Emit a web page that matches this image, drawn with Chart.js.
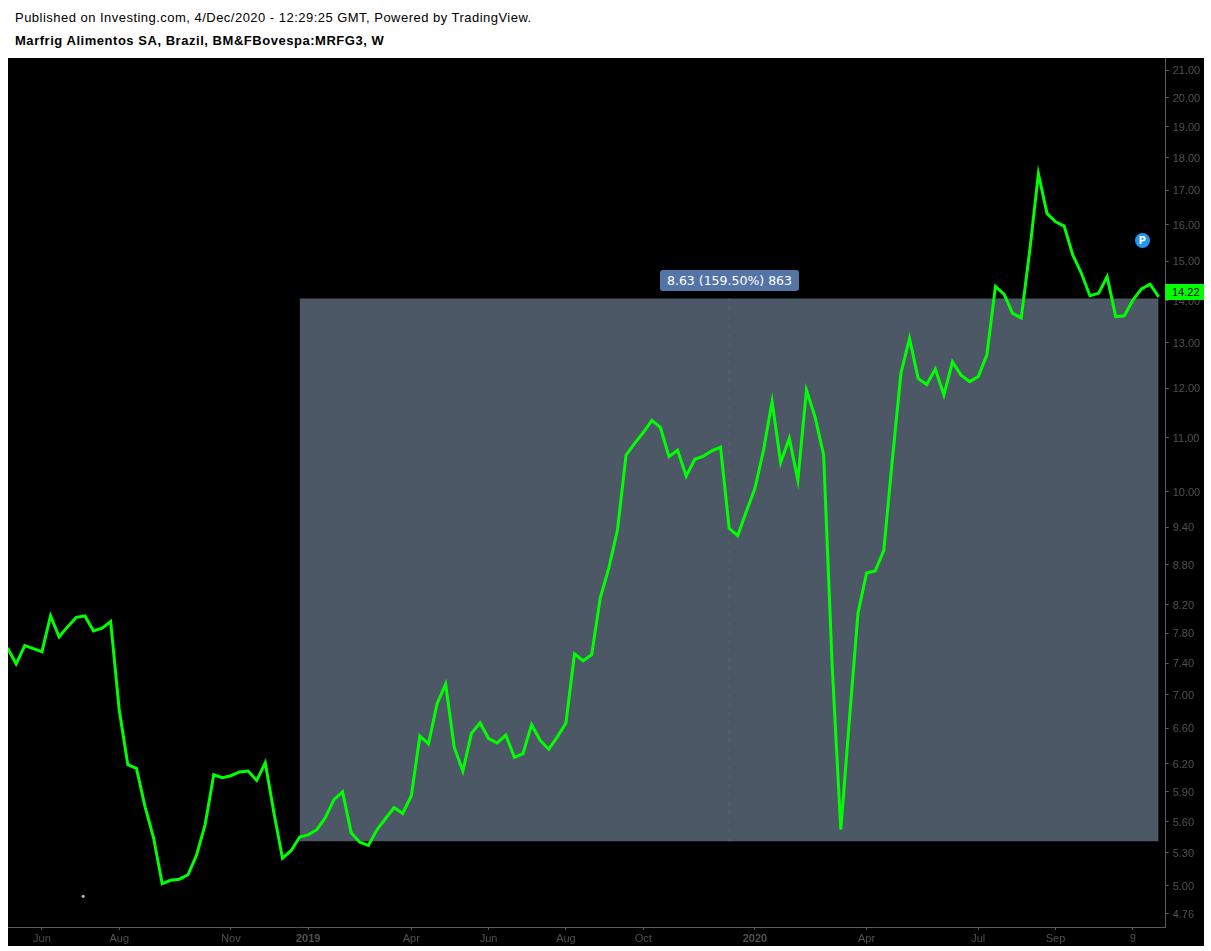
<!DOCTYPE html>
<html>
<head>
<meta charset="utf-8">
<title>MRFG3</title>
<script src="https://cdn.jsdelivr.net/npm/chart.js@4"></script>
<style>
    html, body { margin: 0; padding: 0; background: #fff; width: 1211px; height: 951px; overflow: hidden; font-family: "Liberation Sans", Arial, sans-serif; }
    .head { position: absolute; left: 15px; color: #000; white-space: nowrap; }
    #published { top: 10px; font-size: 13px; letter-spacing: 0.475px; }
    #symbol { top: 33px; font-size: 13px; font-weight: bold; letter-spacing: 0.535px; }
    #panel { position: absolute; left: 8px; top: 58px; width: 1196px; height: 888px; background: #000; }
    #pill { position: absolute; left: 660px; top: 270px; width: 139px; height: 21px; background: #5574a6; border-radius: 3px; color: #fff; text-align: center; font: 12.5px/21px "DejaVu Sans", sans-serif; }
    #lastTag { position: absolute; left: 1165px; top: 284px; width: 39px; height: 16px; background: #00ff00; color: #000; font-size: 11px; line-height: 16px; text-indent: 7px; }
    #pMark { position: absolute; left: 1135px; top: 233px; width: 15px; height: 15px; border-radius: 50%; background: #2196f3; color: #fff; text-align: center; font: bold 10px/15px "DejaVu Sans", sans-serif; }
</style>
</head>
<body>
<div class="head" id="published">Published on Investing.com, 4/Dec/2020 - 12:29:25 GMT, Powered by TradingView.</div>
<div class="head" id="symbol">Marfrig Alimentos SA, Brazil, BM&amp;FBovespa:MRFG3, W</div>
<div id="panel"><canvas id="chart" width="1196" height="888"></canvas></div>
<div id="pill">8.63 (159.50%) 863</div>
<div id="lastTag">14.22</div>
<div id="pMark">P</div>

<script>
// weekly closes
const closes = [
    7.60, 7.39, 7.63, 7.59, 7.55, 8.04, 7.75, 7.89, 8.02, 8.04,
    7.83, 7.87, 7.96, 6.81, 6.19, 6.15, 5.75, 5.44, 5.02, 5.05,
    5.06, 5.10, 5.28, 5.57, 6.08, 6.05, 6.07, 6.11, 6.12, 6.02,
    6.21, 5.69, 5.25, 5.32, 5.45, 5.47, 5.52, 5.64, 5.82, 5.90,
    5.49, 5.40, 5.37, 5.52, 5.63, 5.74, 5.68, 5.86, 6.51, 6.42,
    6.89, 7.13, 6.38, 6.12, 6.54, 6.66, 6.48, 6.43, 6.52, 6.27,
    6.31, 6.64, 6.46, 6.36, 6.50, 6.66, 7.52, 7.43, 7.51, 8.30,
    8.75, 9.35, 10.67, 10.89, 11.10, 11.34, 11.20, 10.64, 10.76, 10.28,
    10.59, 10.65, 10.75, 10.82, 9.38, 9.26, 9.66, 10.06, 10.76, 11.72,
    10.53, 10.99, 10.21, 11.96, 11.41, 10.67, 7.35, 5.52, 6.70, 8.08,
    8.67, 8.70, 9.02, 10.58, 12.32, 13.10, 12.21, 12.08, 12.41, 11.86,
    12.57, 12.28, 12.14, 12.25, 12.72, 14.35, 14.16, 13.69, 13.58, 15.30,
    17.50, 16.32, 16.08, 15.96, 15.17, 14.69, 14.12, 14.18, 14.60, 13.61,
    13.63, 14.01, 14.29, 14.41, 14.09
]

const xTickWeeks = [4, 13, 26, 35, 47, 56, 65, 74, 87, 100, 113, 122, 131]
const xTickLabels = ['Jun', 'Aug', 'Nov', '2019', 'Apr', 'Jun', 'Aug', 'Oct', '2020', 'Apr', 'Jul', 'Sep', '9']
const yTicks = [4.76, 5.00, 5.30, 5.60, 5.90, 6.20, 6.60, 7.00, 7.40, 7.80, 8.20, 8.80, 9.40, 10.00, 11.00, 12.00, 13.00, 14.00, 15.00, 16.00, 17.00, 18.00, 19.00, 20.00, 21.00]

// price range drawing
const rangeWeeks = [34, 134]
const rangeMidWeek = 84
const rangeLow = 5.41
const rangeHigh = 14.05
const speck = [{ x: 8.8, y: 4.91 }]

const AXIS_COLOR = '#5a5a5a'
const LABEL_COLOR = '#505050'

const flat = (price) => rangeWeeks.map((w) => ({ x: w, y: price }))

const ctx = document.getElementById('chart').getContext('2d')
new Chart(ctx, {
    type: 'line',
    data: {
        datasets: [
            {
                data: closes.map((c, i) => ({ x: i, y: c })),
                borderColor: '#00ff00',
                borderWidth: 3,
                borderJoinStyle: 'miter',
                pointRadius: 0,
                tension: 0,
                order: 0
            },
            {
                data: speck,
                showLine: false,
                pointRadius: 1.6,
                pointBackgroundColor: '#b0b0b0',
                pointBorderWidth: 0,
                order: 1
            },
            {
                data: [{ x: rangeMidWeek, y: rangeLow }, { x: rangeMidWeek, y: rangeHigh }],
                borderColor: '#5f6266',
                borderWidth: 1,
                borderDash: [3, 6],
                pointRadius: 0,
                order: 2
            },
            {
                data: flat(rangeHigh),
                borderWidth: 0,
                pointRadius: 0,
                backgroundColor: '#4c5866',
                fill: '+1',
                order: 3
            },
            {
                data: flat(rangeLow),
                borderWidth: 0,
                pointRadius: 0,
                order: 4
            }
        ]
    },
    options: {
        responsive: false,
        animation: false,
        layout: { padding: 0, autoPadding: false },
        plugins: { legend: { display: false }, tooltip: { enabled: false } },
        scales: {
            x: {
                type: 'linear',
                min: 0.05,
                max: 134.82,
                afterBuildTicks: (scale) => { scale.ticks = xTickWeeks.map((w) => ({ value: w })) },
                afterFit: (scale) => {
                    scale.height = 19
                    scale.paddingLeft = 0
                    scale.paddingRight = 0
                },
                border: { color: AXIS_COLOR },
                grid: { drawOnChartArea: false, color: AXIS_COLOR, tickLength: 3 },
                ticks: {
                    autoSkip: false,
                    maxRotation: 0,
                    padding: 2,
                    color: LABEL_COLOR,
                    font: (c) => ({ family: 'Liberation Sans', size: 11, weight: c.index === 3 || c.index === 8 ? 'bold' : 'normal' }),
                    callback: (value, idx) => xTickLabels[idx]
                }
            },
            y: {
                type: 'logarithmic',
                position: 'right',
                min: 4.652,
                max: 21.45,
                afterBuildTicks: (scale) => { scale.ticks = yTicks.map((v) => ({ value: v })) },
                afterFit: (scale) => {
                    scale.width = 38.3
                    scale.paddingTop = 0
                    scale.paddingBottom = 0
                },
                border: { color: AXIS_COLOR },
                grid: { drawOnChartArea: false, color: AXIS_COLOR, tickLength: 3 },
                ticks: {
                    autoSkip: false,
                    padding: 4,
                    color: LABEL_COLOR,
                    // blank first line with a 2px line height pushes the label 1px down
                    font: { family: 'Liberation Sans', size: 11, lineHeight: '2px' },
                    callback: (value) => ['', Number(value).toFixed(2)]
                }
            }
        }
    }
})
</script>
</body>
</html>
